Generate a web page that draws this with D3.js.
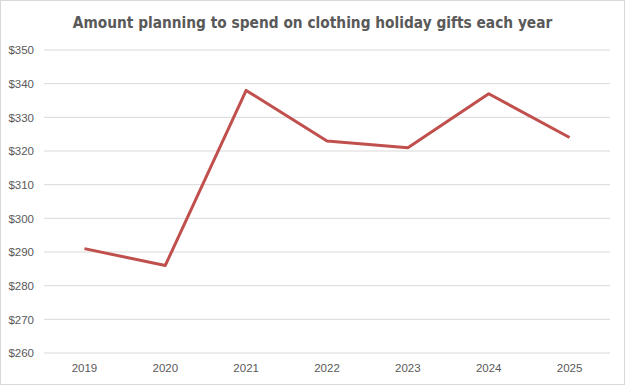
<!DOCTYPE html>
<html>
<head>
<meta charset="utf-8">
<script src="https://cdn.jsdelivr.net/npm/d3@7"></script>
<style>
  body { margin: 0; background: #fff; }
  svg { display: block; }
</style>
</head>
<body>
<div id="chart"></div>
<script>
const years = ["2019", "2020", "2021", "2022", "2023", "2024", "2025"];
const amounts = [291, 286, 338, 323, 321, 337, 324];
const yTicks = [260, 270, 280, 290, 300, 310, 320, 330, 340, 350];
const title = "Amount planning to spend on clothing holiday gifts each year";

const W = 625, H = 385;
const margin = { top: 50, right: 15, bottom: 32, left: 44 },
  width = W - margin.left - margin.right,
  height = H - margin.top - margin.bottom;

const root = d3.select("#chart").append("svg")
  .attr("width", W)
  .attr("height", H);

root.append("rect")
  .attr("x", 0.5).attr("y", 0.5)
  .attr("width", W - 1).attr("height", H - 1)
  .attr("fill", "#fff")
  .attr("stroke", "#d9d9d9");

root.append("text")
  .attr("x", W / 2)
  .attr("y", 28)
  .attr("text-anchor", "middle")
  .style("font-family", "'DejaVu Sans Condensed', sans-serif")
  .style("font-size", "15.3px")
  .style("font-weight", "bold")
  .style("fill", "#595959")
  .text(title);

const svg = root.append("g")
  .attr("transform", `translate(${margin.left},${margin.top})`);

const x = d3.scaleBand().domain(years).range([0, width]);
const y = d3.scaleLinear().domain([260, 350]).range([height, 0]);

// gridlines
svg.append("g")
  .selectAll("line")
  .data(yTicks)
  .join("line")
  .attr("x1", 0)
  .attr("x2", width)
  .attr("y1", d => y(d))
  .attr("y2", d => y(d))
  .attr("stroke", "#d9d9d9")
  .attr("stroke-width", 1);

const yAxis = svg.append("g")
  .call(d3.axisLeft(y).tickValues(yTicks).tickFormat(d => "$" + d).tickSize(0).tickPadding(10));
yAxis.select(".domain").remove();
yAxis.selectAll("text")
  .style("font-family", "'Liberation Sans', Arial, sans-serif")
  .style("font-size", "11.5px")
  .style("fill", "#595959");

const xAxis = svg.append("g")
  .attr("transform", `translate(0,${height})`)
  .call(d3.axisBottom(x).tickSize(0).tickPadding(11));
xAxis.select(".domain").remove();
xAxis.selectAll("text")
  .style("font-family", "'Liberation Sans', Arial, sans-serif")
  .style("font-size", "11.5px")
  .style("fill", "#595959");

const line = d3.line()
  .x((d, i) => x(years[i]) + x.bandwidth() / 2)
  .y(d => y(d));

svg.append("path")
  .datum(amounts)
  .attr("fill", "none")
  .attr("stroke", "#c0504d")
  .attr("stroke-width", 3)
  .attr("stroke-linejoin", "round")
  .attr("d", line);
</script>
</body>
</html>
